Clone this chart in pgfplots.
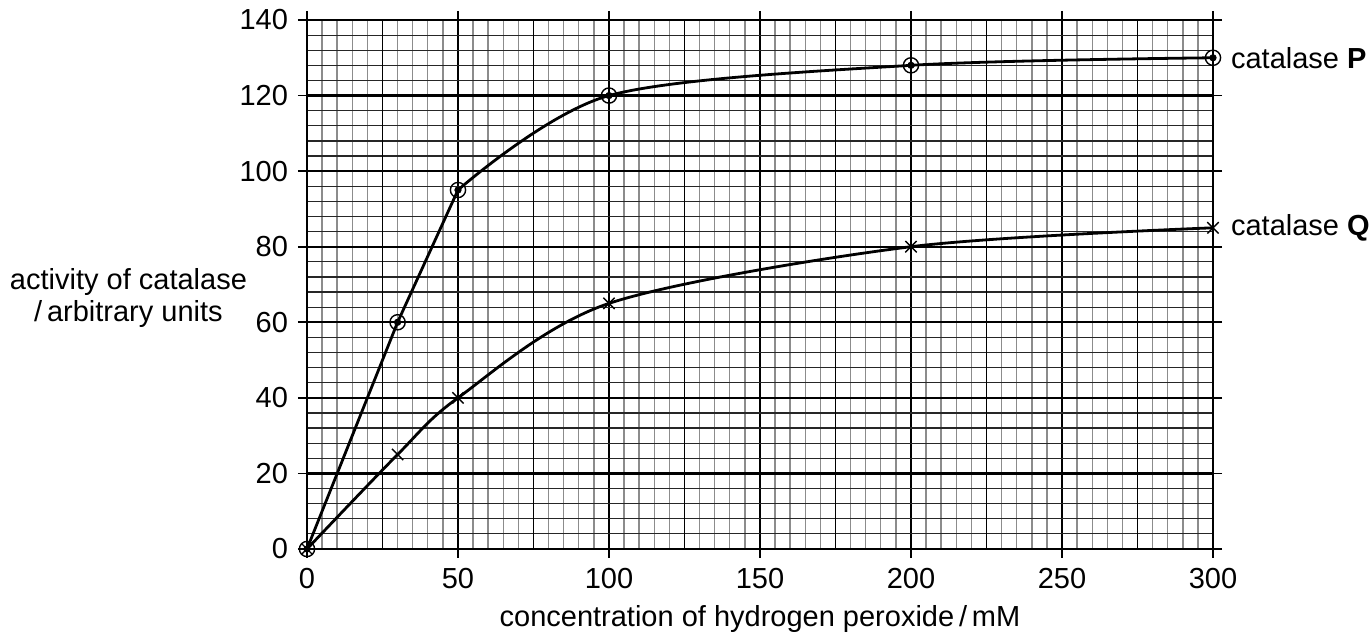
\documentclass[border=0pt]{standalone}
\usepackage{fontspec}
\setmainfont{Liberation Sans}
\usepackage{pgfplots}
\pgfplotsset{compat=1.18}

\pgfplotstableread{
x y
0 0
30 60
50 95
100 120
200 128
300 130
}\catP
\pgfplotstableread{
x y
0 0
30 25
50 40
100 65
200 80
300 85
}\catQ

\begin{document}
\fontsize{14.5}{16}\selectfont
\begin{tikzpicture}
\begin{axis}[
  name=ax,
  scale only axis, width=453pt, height=264.5pt,
  xmin=0, xmax=300, ymin=0, ymax=140,
  xtick={0,50,...,300}, ytick={0,20,...,140},
  minor x tick num=9, minor y tick num=4,
  grid=both,
  major grid style={black, line width=1.1pt},
  minor x grid style={black!45, line width=0.7pt},
  minor y grid style={black!85, line width=0.6pt},
  tick align=outside, major tick length=4.5pt, minor tick length=0pt,
  tick style={black, line width=0.8pt},
  axis line style={black, line width=1.1pt},
  extra x ticks={25,75,...,275},
  extra x tick labels={},
  extra tick style={grid=major, major grid style={black, line width=0.6pt}, major tick length=0pt},
  /pgf/number format/assume math mode=true,
  tick label style={font=\fontsize{14.5}{16}\selectfont},
  clip=false,
]
\addplot[black, line width=1.4pt, sharp plot, line join=round, restrict x to domain=0:50] table {\catP};
\addplot[black, line width=1.4pt, smooth, restrict x to domain=50:300] table {\catP};
\addplot[black, line width=1.4pt, smooth] table {\catQ};
\addplot[only marks, mark=o, mark size=3.8pt, mark options={line width=0.7pt}] table {\catP};
\addplot[only marks, mark=*, mark size=1.6pt] table {\catP};
\addplot[only marks, mark=x, mark size=4pt, mark options={line width=0.7pt}] table {\catQ};
\node[anchor=west, xshift=4pt] at (axis cs:300,130) {catalase \textbf{P}};
\node[anchor=west, xshift=4pt] at (axis cs:300,85) {catalase \textbf{Q}};
\node[anchor=east, align=center, xshift=-25pt, yshift=-7pt] at (rel axis cs:0,0.5) {activity of catalase\\/\,arbitrary units};
\node[anchor=base, yshift=-39pt] at (rel axis cs:0.5,0) {concentration of hydrogen peroxide\,/\,mM};
\end{axis}
\pgfresetboundingbox
\path[use as bounding box] ([shift={(-153.5pt,-43pt)}]ax.south west) rectangle ([shift={(79pt,10pt)}]ax.north east);
\end{tikzpicture}
\end{document}
